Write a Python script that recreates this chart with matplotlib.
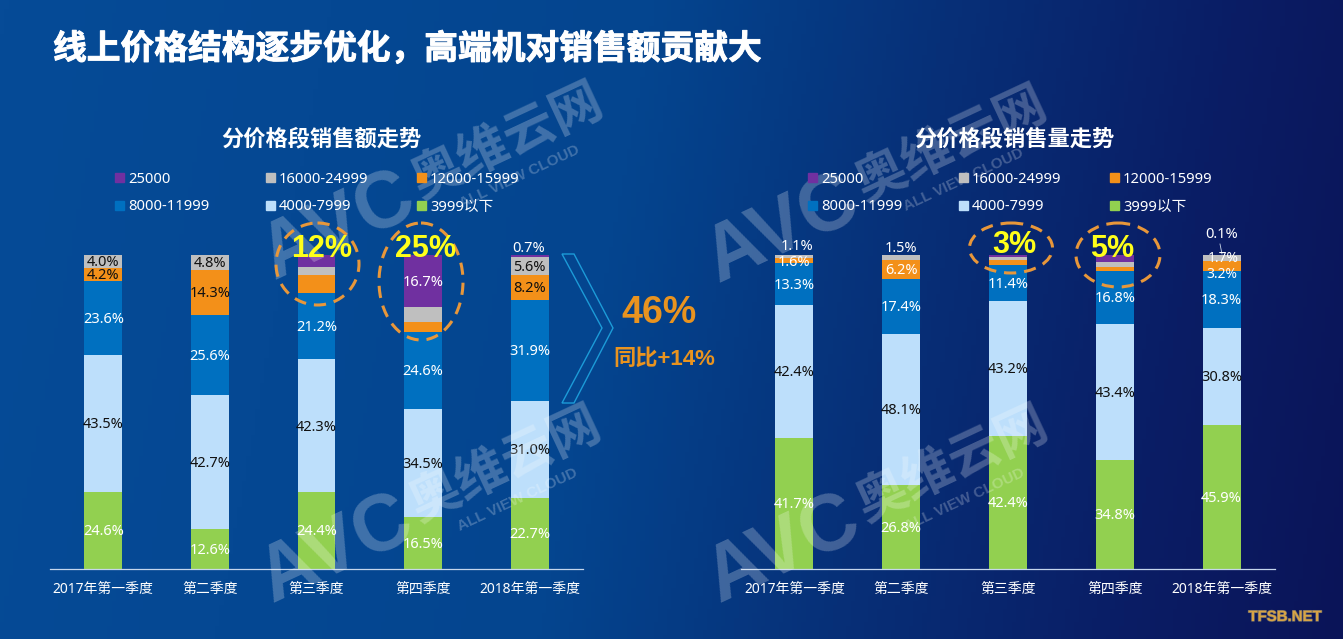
import numpy as np
import matplotlib
matplotlib.use("Agg")
import matplotlib.pyplot as plt
import matplotlib.patheffects as pe
from matplotlib.colors import LinearSegmentedColormap
from matplotlib.patches import Ellipse, Polygon

plt.rcParams['font.family'] = ['Noto Sans', 'Noto Sans CJK SC', 'DejaVu Sans']
BOLD_FONTS = ['Liberation Sans', 'Noto Sans CJK SC']

W, H = 1343, 639

quarters = ["2017年第一季度", "第二季度", "第三季度", "第四季度", "2018年第一季度"]
segments = ["3999以下", "4000-7999", "8000-11999", "12000-15999", "16000-24999", "25000"]
colors = ["#92D050", "#BDDFFB", "#0070C0", "#F39019", "#BFBFBF", "#7030A0"]

# share of sales value, bottom to top
amt_low = [24.6, 12.6, 24.4, 16.5, 22.7]
amt_mid = [43.5, 42.7, 42.3, 34.5, 31.0]
amt_high = [23.6, 25.6, 21.2, 24.6, 31.9]
amt_12k = [4.2, 14.3, 5.7, 3.2, 8.2]
amt_16k = [4.0, 4.8, 2.6, 4.5, 5.6]
amt_25k = [0.0, 0.0, 3.7, 16.7, 0.7]

# share of sales volume, bottom to top
vol_low = [41.7, 26.8, 42.4, 34.8, 45.9]
vol_mid = [42.4, 48.1, 43.2, 43.4, 30.8]
vol_high = [13.3, 17.4, 11.4, 16.8, 18.3]
vol_12k = [1.6, 6.2, 1.7, 1.4, 3.2]
vol_16k = [1.1, 1.5, 1.0, 1.6, 1.7]
vol_25k = [0.0, 0.0, 0.5, 2.1, 0.1]

amt_labels = [
    ["24.6%", "12.6%", "24.4%", "16.5%", "22.7%"],
    ["43.5%", "42.7%", "42.3%", "34.5%", "31.0%"],
    ["23.6%", "25.6%", "21.2%", "24.6%", "31.9%"],
    ["4.2%", "14.3%", "", "", "8.2%"],
    ["4.0%", "4.8%", "", "", "5.6%"],
    ["", "", "", "16.7%", ""],
]
vol_labels = [
    ["41.7%", "26.8%", "42.4%", "34.8%", "45.9%"],
    ["42.4%", "48.1%", "43.2%", "43.4%", "30.8%"],
    ["13.3%", "17.4%", "11.4%", "16.8%", "18.3%"],
    ["1.6%", "6.2%", "", "", ""],
    ["", "", "", "", ""],
    ["", "", "", "", ""],
]
label_colors = ["white", "#111111", "white", "#111111", "#111111", "white"]
vol_label_colors = ["white", "#111111", "white", "white", "white", "white"]


def px_axes(fig, x0, y0, x1, y1):
    # pixel box, y measured from the top of the image
    return fig.add_axes([x0 / W, 1 - y1 / H, (x1 - x0) / W, (y1 - y0) / H])


def stacked(ax, data, labels, lab_colors):
    data = np.array(data, dtype=float)
    data = data / data.sum(axis=0) * 100
    x = np.arange(len(quarters))
    bottom = np.zeros(len(quarters))
    for i, seg in enumerate(segments):
        ax.bar(x, data[i], 0.355, bottom=bottom, color=colors[i], zorder=2)
        for j in x:
            if labels[i][j]:
                ax.text(j, bottom[j] + data[i][j] / 2 - 0.4, labels[i][j], ha="center", va="center",
                        fontsize=10.5, color=lab_colors[i], zorder=6)
        bottom += data[i]
    ax.set_xlim(-0.5, 4.5)
    ax.set_ylim(0, 100)
    ax.patch.set_alpha(0)
    for s in ["top", "left", "right"]:
        ax.spines[s].set_visible(False)
    ax.spines["bottom"].set_color("#C5D6EC")
    ax.spines["bottom"].set_linewidth(0.9)
    ax.set_yticks([])
    ax.set_xticks(x)
    ax.set_xticklabels(quarters, fontsize=10, color="white")
    ax.tick_params(axis="x", length=0, pad=9)


def legend(fig, xs):
    # two rows of three, top row is the high price bands
    order = [5, 4, 3, 2, 1, 0]
    ys = [177, 205]
    for k, i in enumerate(order):
        px, py = xs[k % 3], ys[k // 3]
        fig.patches.append(plt.Rectangle((px / W, 1 - (py + 4.5) / H), 9 / W, 9 / H,
                                         transform=fig.transFigure, color=colors[i], zorder=5))
        fig.text((px + 13) / W, 1 - (py + 2) / H, segments[i], fontsize=10.6, color="white",
                 va="center", ha="left", zorder=5)


def watermark(ax, x, y):
    # AVC logo block, x y are the pixel centre of the big letters
    kw = dict(color="white", alpha=0.24, rotation=25, ha="center", va="center",
              rotation_mode="anchor", fontweight="bold", zorder=9)
    ax.text(x, y, "AVC", fontsize=57, family="Liberation Sans", **kw)
    ax.text(x + 170, y - 84, "奥维云网", fontsize=37, **kw)
    ax.text(x + 182, y - 50, "ALL VIEW CLOUD", fontsize=11, family="Liberation Sans", **kw)


fig = plt.figure(figsize=(W / 100, H / 100), dpi=100)

# background gradient, brighter to the left
bg = fig.add_axes([0, 0, 1, 1], zorder=0)
gx, gy = np.meshgrid(np.linspace(0, 1, 300), np.linspace(0, 1, 150))
cmap = LinearSegmentedColormap.from_list(
    "bg", [(0, "#064B97"), (0.45, "#04458F"), (0.65, "#073078"), (0.85, "#0A1D65"), (1, "#0A1458")])
bg.imshow(gx * 0.92 + gy * 0.08, cmap=cmap, extent=(0, W, H, 0), aspect="auto", vmin=0, vmax=1)
bg.set_xlim(0, W)
bg.set_ylim(H, 0)
bg.axis("off")

ax1 = px_axes(fig, 50, 255, 583, 569)
ax1.set_zorder(2)
stacked(ax1, [amt_low, amt_mid, amt_high, amt_12k, amt_16k, amt_25k], amt_labels, label_colors)
ax2 = px_axes(fig, 741, 255, 1275, 569)
ax2.set_zorder(2)
stacked(ax2, [vol_low, vol_mid, vol_high, vol_12k, vol_16k, vol_25k], vol_labels, vol_label_colors)

# overlay for annotations in pixel coordinates
ov = fig.add_axes([0, 0, 1, 1], zorder=4)
ov.set_xlim(0, W)
ov.set_ylim(H, 0)
ov.axis("off")

watermark(ov, 338, 227)
watermark(ov, 782, 230)
watermark(ov, 336, 550)
watermark(ov, 783, 550)

title = ov.text(53, 50, "线上价格结构逐步优化，高端机对销售额贡献大", fontsize=24.3, fontweight="bold",
                color="white", ha="left", va="center")
title.set_path_effects([pe.withStroke(linewidth=0.7, foreground="white")])
ov.text(321, 140, "分价格段销售额走势", fontsize=16, fontweight="bold", color="white", ha="center", va="center")
ov.text(1014, 140, "分价格段销售量走势", fontsize=16, fontweight="bold", color="white", ha="center", va="center")

legend(fig, [115, 266, 417])
legend(fig, [808, 959, 1110])

# circled callouts
rings = [(317.5, 264, 83, 82), (421, 281.5, 84, 117), (1011, 248, 83, 50), (1118, 255, 84, 64)]
for cx, cy, w, h in rings:
    ov.add_patch(Ellipse((cx, cy), w, h, fill=False, ec="#E8973A", lw=2.2, ls=(0, (4, 2.6)), zorder=10))
big = [("12%", 322, 249), ("25%", 426, 249), ("3%", 1014, 245), ("5%", 1112, 249)]
for t, x, y in big:
    ov.text(x, y, t, fontsize=22, fontweight="bold", color="#FFFF1A", ha="center", va="center",
            zorder=11, family=BOLD_FONTS)

# labels moved off their segments
ov.text(529, 248, "0.7%", fontsize=10.5, color="white", ha="center", va="center", zorder=11)
ov.text(797, 246, "1.1%", fontsize=10.5, color="white", ha="center", va="center", zorder=11)
ov.text(901, 248, "1.5%", fontsize=10.5, color="white", ha="center", va="center", zorder=11)
ov.text(1222, 234, "0.1%", fontsize=10.5, color="white", ha="center", va="center", zorder=11)
ov.plot([1220, 1222], [244, 254], color="#C9D6E6", lw=0.6, zorder=11)
ov.text(1223, 259, "1.7%", fontsize=10, color="white", ha="center", va="center", zorder=11)
ov.text(1222, 274, "3.2%", fontsize=10, color="white", ha="center", va="center", zorder=11)

# chevron and yoy figure
ov.add_patch(Polygon([(562, 254), (574, 254), (613, 328), (574, 403), (562, 403), (602, 328)],
                     closed=True, fill=False, ec="#1C9BD8", lw=1))
ov.text(659, 313, "46%", fontsize=27, fontweight="bold", color="#E9931F", ha="center", va="center",
        family=BOLD_FONTS)
ov.text(664, 359, "同比+14%", fontsize=16, fontweight="bold", color="#E9931F", ha="center", va="center",
        family=BOLD_FONTS)

# corner mark
mark = ov.text(1285, 617, "TFSB.NET", fontsize=10.8, fontweight="bold", color="#D8A445",
               ha="center", va="center", family="Liberation Sans")
mark.set_path_effects([pe.withStroke(linewidth=1, foreground="#6F6A66")])

fig.savefig("out.png", dpi=100)
